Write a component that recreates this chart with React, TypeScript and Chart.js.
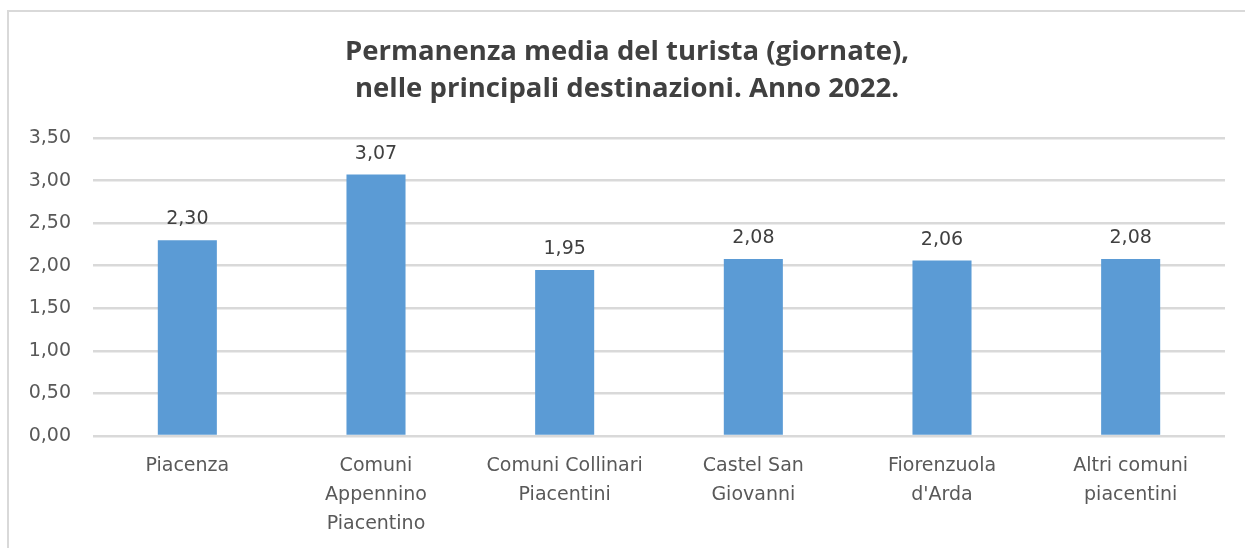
import React, { useEffect, useRef } from "react";
import { Chart, registerables } from "chart.js";

Chart.register(...registerables);

const categories: (string | string[])[] = [
  "Piacenza",
  ["Comuni", "Appennino", "Piacentino"],
  ["Comuni Collinari", "Piacentini"],
  ["Castel San", "Giovanni"],
  ["Fiorenzuola", "d'Arda"],
  ["Altri comuni", "piacentini"],
];
const values: number[] = [2.3, 3.07, 1.95, 2.08, 2.06, 2.08];
const yTicks: number[] = [0, 0.5, 1, 1.5, 2, 2.5, 3, 3.5];
const titleLines: string[] = [
  "Permanenza media del turista (giornate),",
  "nelle principali destinazioni. Anno 2022.",
];

const fmt = (v: number) => v.toFixed(2).replace(".", ",");
const FONT = "'DejaVu Sans', sans-serif";

const framePlugin = {
  id: "frameAndTitle",
  beforeDraw(chart: any) {
    const ctx = chart.ctx;
    ctx.save();
    ctx.fillStyle = "#ffffff";
    ctx.fillRect(0, 0, chart.width, chart.height);
    ctx.fillStyle = "#d9d9d9";
    ctx.fillRect(7, 10, 2, chart.height - 10);
    ctx.fillRect(7, 10, chart.width - 7, 2);
    ctx.restore();
  },
  afterDraw(chart: any) {
    const ctx = chart.ctx;
    ctx.save();
    ctx.fillStyle = "#404040";
    ctx.font = "bold 27.5px 'Open Sans', sans-serif";
    ctx.textAlign = "center";
    ctx.textBaseline = "alphabetic";
    ctx.fillText(titleLines[0], 627, 60);
    ctx.fillText(titleLines[1], 627, 97);
    // data labels
    const meta = chart.getDatasetMeta(0);
    ctx.font = "19px " + FONT;
    ctx.fillStyle = "#404040";
    meta.data.forEach((el: any, i: number) => {
      ctx.fillText(fmt(values[i]), el.x, el.y - 16);
    });
    ctx.restore();
  },
};

export default function App() {
  const ref = useRef<HTMLCanvasElement | null>(null);
  useEffect(() => {
    if (!ref.current) return;
    const chart = new Chart(ref.current, {
      type: "bar",
      data: {
        labels: categories as any,
        datasets: [
          {
            data: values,
            backgroundColor: "#5b9bd5",
            categoryPercentage: 1,
            barPercentage: 0.313,
          },
        ],
      },
      options: {
        animation: false,
        responsive: false,
        maintainAspectRatio: false,
        layout: { padding: { top: 138, right: 20, left: 0, bottom: 0 } },
        plugins: {
          legend: { display: false },
          title: { display: false },
          tooltip: { enabled: false },
        },
        scales: {
          x: {
            grid: { display: false, drawTicks: false },
            border: { display: false },
            ticks: {
              color: "#595959",
              font: { family: FONT, size: 19, lineHeight: 1.51 },
              padding: 16,
              maxRotation: 0,
              autoSkip: false,
            },
            afterFit: (s: any) => {
              s.height = 112;
            },
          },
          y: {
            min: 0,
            max: 3.5,
            afterBuildTicks: (s: any) => {
              s.ticks = yTicks.map((v) => ({ value: v }));
            },
            grid: {
              color: "#d9d9d9",
              lineWidth: 2.5,
              drawTicks: false,
            },
            border: { display: false },
            ticks: {
              color: "#595959",
              font: { family: FONT, size: 19 },
              padding: 22,
              callback: (v: any) => fmt(Number(v)),
            },
            afterFit: (s: any) => {
              s.width = 93;
            },
          },
        },
      },
      plugins: [framePlugin],
    });
    return () => chart.destroy();
  }, []);
  return (
    <div style={{ position: "absolute", left: 0, top: 0, width: 1245, height: 548 }}>
      <canvas ref={ref} width={1245} height={548} style={{ display: "block" }} />
    </div>
  );
}
